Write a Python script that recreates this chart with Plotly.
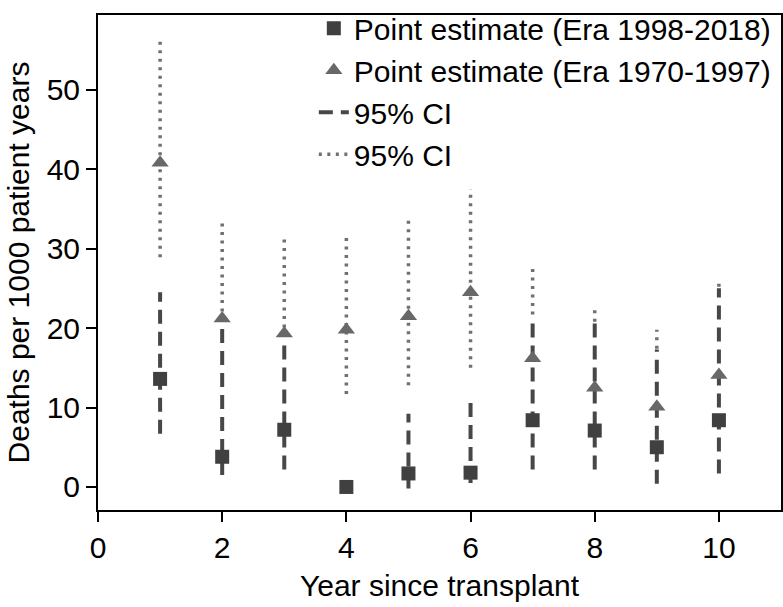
import plotly.graph_objects as go

years = [1, 2, 3, 4, 5, 6, 7, 8, 9, 10]

# Era 1998-2018
est_new = [13.6, 3.8, 7.2, 0.0, 1.7, 1.8, 8.4, 7.1, 5.0, 8.4]
lo_new = [6.7, 1.5, 2.2, 0.0, -0.2, 0.5, 2.2, 2.2, 0.4, 1.7]
hi_new = [24.5, 20.8, 18.5, 0.0, 9.2, 10.7, 21.4, 20.6, 17.3, 25.0]

# Era 1970-1997
est_old = [40.8, 21.2, 19.3, 19.8, 21.5, 24.5, 16.2, 12.5, 10.1, 14.1]
lo_old = [28.9, 21.0, 19.0, 11.7, 12.8, 15.0, 21.7, 20.8, 17.4, 25.2]
hi_old = [56.6, 33.3, 31.5, 31.4, 33.9, 37.5, 27.7, 22.7, 19.8, 25.9]

x_ticks = [0, 2, 4, 6, 8, 10]
y_ticks = [0, 10, 20, 30, 40, 50]

FONT = "Liberation Sans, Arial, sans-serif"
FS = 30


def segs(xs, los, his):
    X, Y = [], []
    for x, a, b in zip(xs, los, his):
        if a == b:
            continue
        X += [x, x, None]
        Y += [a, b, None]
    return X, Y


fig = go.Figure()

xd, yd = segs(years, lo_old, hi_old)
fig.add_trace(go.Scatter(x=xd, y=yd, mode="lines", name="95% CI",
                         line=dict(color="#707070", width=3.5, dash="3px,5.5px"),
                         legendrank=4, hoverinfo="skip"))
xd2, yd2 = segs(years, lo_new, hi_new)
fig.add_trace(go.Scatter(x=xd2, y=yd2, mode="lines", name="95% CI",
                         line=dict(color="#474747", width=4, dash="14px,8px"),
                         legendrank=3, hoverinfo="skip"))
fig.add_trace(go.Scatter(x=years, y=est_old, mode="markers",
                         name="Point estimate (Era 1970-1997)",
                         marker=dict(symbol="triangle-up", size=15, color="#686868"),
                         legendrank=2))
fig.add_trace(go.Scatter(x=years, y=est_new, mode="markers",
                         name="Point estimate (Era 1998-2018)",
                         marker=dict(symbol="square", size=14, color="#404040"),
                         legendrank=1))

axis_common = dict(
    showline=True, linecolor="black", linewidth=2, mirror=True,
    ticks="outside", ticklen=10, tickwidth=2, tickcolor="black",
    showgrid=False, zeroline=False, automargin=False,
    tickfont=dict(family=FONT, size=FS, color="black"),
)

fig.update_layout(
    width=783, height=607,
    margin=dict(l=98, r=2, t=2, b=97),
    paper_bgcolor="white", plot_bgcolor="white",
    font=dict(family=FONT, size=FS, color="black"),
    showlegend=True,
    legend=dict(x=0.316, y=1.026, xanchor="left", yanchor="top",
                bgcolor="rgba(0,0,0,0)", borderwidth=0,
                font=dict(family=FONT, size=FS, color="black"),
                tracegroupgap=0, itemwidth=30),
    xaxis=dict(range=[0, 11], tickvals=x_ticks,
               title=dict(text="Year since transplant",
                          font=dict(family=FONT, size=FS, color="black"), standoff=12),
               **axis_common),
    yaxis=dict(range=[-2.9, 59.4], tickvals=y_ticks,
               title=dict(text="Deaths per 1000 patient years",
                          font=dict(family=FONT, size=FS, color="black"), standoff=8),
               **axis_common),
)

fig.write_html("out.html",
               config={"displayModeBar": False, "staticPlot": True},
               post_script="document.body.style.margin='0';document.body.style.padding='0';")
